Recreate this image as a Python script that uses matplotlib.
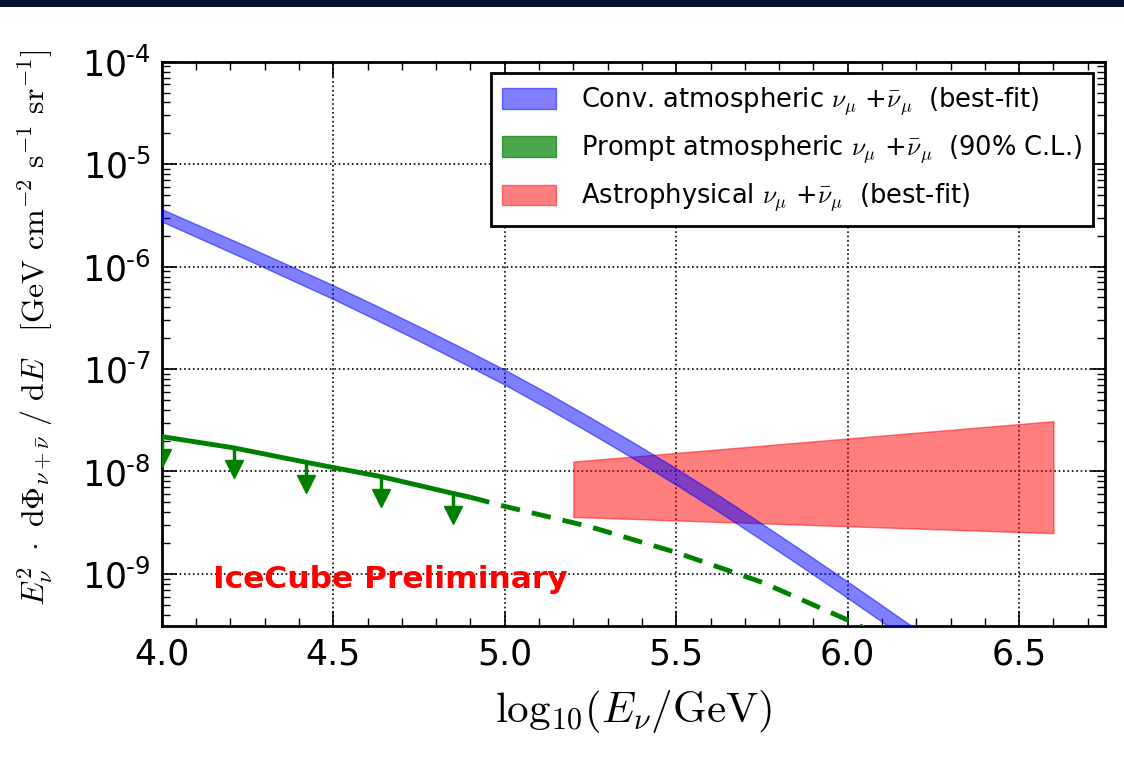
"""IceCube numu flux: conventional / prompt atmospheric and astrophysical bands."""

import numpy as np
import matplotlib
matplotlib.use("Agg")
import matplotlib.pyplot as plt
from matplotlib.patches import Patch, Rectangle
from matplotlib.ticker import FixedLocator, FuncFormatter, MultipleLocator

# conventional atmospheric band (best-fit), x = log10(E/GeV), band read as log10 centre +- half width
conv_x = [4.0, 4.125, 4.25, 4.375, 4.5, 4.625, 4.75, 4.875, 5.0, 5.125,
          5.25, 5.375, 5.5, 5.625, 5.75, 5.875, 6.0, 6.125, 6.25]
conv_log_mid = [-5.50, -5.685, -5.87, -6.06, -6.25, -6.45, -6.655, -6.865, -7.08, -7.31,
                -7.55, -7.795, -8.05, -8.315, -8.59, -8.87, -9.155, -9.445, -9.735]
conv_log_half = [0.060, 0.062, 0.064, 0.066, 0.067, 0.069, 0.070, 0.072, 0.073, 0.075,
                 0.076, 0.078, 0.080, 0.080, 0.080, 0.080, 0.080, 0.080, 0.080]

# prompt atmospheric 90% C.L. limit: solid part and extrapolated (dashed) part
prompt_x = [4.0, 4.21, 4.42, 4.64, 4.85, 4.9]
prompt_y = [2.19e-8, 1.70e-8, 1.23e-8, 8.9e-9, 6.1e-9, 5.6e-9]
prompt_ext_x = [4.9, 5.0, 5.25, 5.5, 5.75, 6.0, 6.25]
prompt_ext_y = [5.6e-9, 4.57e-9, 2.88e-9, 1.62e-9, 8.3e-10, 3.55e-10, 1.4e-10]

# upper-limit arrows
limit_x = [4.0, 4.21, 4.42, 4.64, 4.85]
limit_y = [2.19e-8, 1.70e-8, 1.23e-8, 8.9e-9, 6.1e-9]

# astrophysical band (best-fit)
astro_x = [5.2, 6.6]
astro_hi = [1.25e-8, 3.1e-8]
astro_lo = [3.6e-9, 2.5e-9]

plt.rcParams.update({
    "font.family": "DejaVu Sans",
    "mathtext.fontset": "cm",
    "xtick.direction": "in",
    "ytick.direction": "in",
    "xtick.top": True,
    "ytick.right": True,
})

fig = plt.figure(figsize=(11.24, 7.71), dpi=100)
ax = fig.add_axes([0.144, 0.188, 0.839, 0.732])

# dark banner strip at the very top of the slide
fig.patches.append(Rectangle((0, 1 - 7 / 771), 1, 7 / 771, transform=fig.transFigure,
                             facecolor="#02142f", edgecolor="none", zorder=10))

mid = np.array(conv_log_mid)
half = np.array(conv_log_half)
ax.fill_between(conv_x, 10 ** (mid - half), 10 ** (mid + half), facecolor="blue",
                edgecolor="blue", alpha=0.5, lw=1, zorder=3)
ax.fill_between(astro_x, astro_lo, astro_hi, facecolor="red", edgecolor="red",
                alpha=0.5, lw=1, zorder=2)

ax.plot(prompt_x, prompt_y, color="green", lw=3.5, solid_capstyle="butt", zorder=4)
ax.plot(prompt_ext_x, prompt_ext_y, color="green", lw=3.5, dashes=(4, 2.5), zorder=4)

# arrows: stem down from the limit, triangle head below
lim = np.array(limit_y)
head = lim / 10 ** 0.21
ax.vlines(limit_x, head, lim, color="green", lw=2.5, zorder=4)
ax.plot(limit_x, head, ls="none", marker="v", ms=13, color="green", zorder=4)

ax.text(4.15, 8.9e-10, "IceCube Preliminary", color="red", fontsize=22.5,
        fontweight="bold", va="center", ha="left", zorder=5)

ax.set_yscale("log")
ax.set_xlim(4.0, 6.75)
ax.set_ylim(3.1e-10, 1e-4)

ax.xaxis.set_major_locator(MultipleLocator(0.5))
ax.xaxis.set_minor_locator(MultipleLocator(0.1))
ax.xaxis.set_major_formatter(FuncFormatter(lambda v, p: f"{v:.1f}"))
ax.yaxis.set_major_locator(FixedLocator([1e-9, 1e-8, 1e-7, 1e-6, 1e-5, 1e-4]))
ax.yaxis.set_major_formatter(FuncFormatter(
    lambda v, p: r"$\mathdefault{10^{\text{-}%d}}$" % round(-np.log10(v))))

ax.tick_params(which="major", length=11, width=1.2, labelsize=25, pad=8)
ax.tick_params(which="minor", length=6, width=1)
for s in ax.spines.values():
    s.set_linewidth(2)

ax.grid(True, which="major", color="black", ls=":", lw=1.2)
ax.set_axisbelow(True)

ax.set_xlabel(r"$\mathrm{log}_{10}(E_{\nu}/\mathrm{GeV})$", fontsize=31)
ax.xaxis.set_label_coords(0.5, -0.11, transform=ax.transAxes)
ax.set_ylabel(r"$E_{\nu}^{2}\ \cdot\ \mathrm{d}\Phi_{\nu+\bar{\nu}}\ /\ \mathrm{d}E\ \ \ "
              r"[\mathrm{GeV\ cm^{-2}\ s^{-1}\ sr^{-1}}]$", fontsize=23)
ax.yaxis.set_label_coords(-0.113, 0.528, transform=ax.transAxes)

handles = [
    Patch(facecolor="blue", edgecolor="blue", alpha=0.5),
    Patch(facecolor="green", edgecolor="green", alpha=0.7),
    Patch(facecolor="red", edgecolor="red", alpha=0.5),
]
labels = [
    r"Conv. atmospheric $\nu_\mu$ +$\bar{\nu}_\mu\ $ (best-fit)",
    r"Prompt atmospheric $\nu_\mu$ +$\bar{\nu}_\mu\ $ (90% C.L.)",
    r"Astrophysical $\nu_\mu$ +$\bar{\nu}_\mu\ $ (best-fit)",
]
leg = ax.legend(handles, labels, loc="upper right", fontsize=18.5, fancybox=False,
                framealpha=1, edgecolor="black", handlelength=2.1, handleheight=0.85,
                handletextpad=0.95, labelspacing=0.6, borderaxespad=0.45,
                borderpad=0.45)
leg.get_frame().set_linewidth(2)

fig.savefig("out.png", dpi=100)
